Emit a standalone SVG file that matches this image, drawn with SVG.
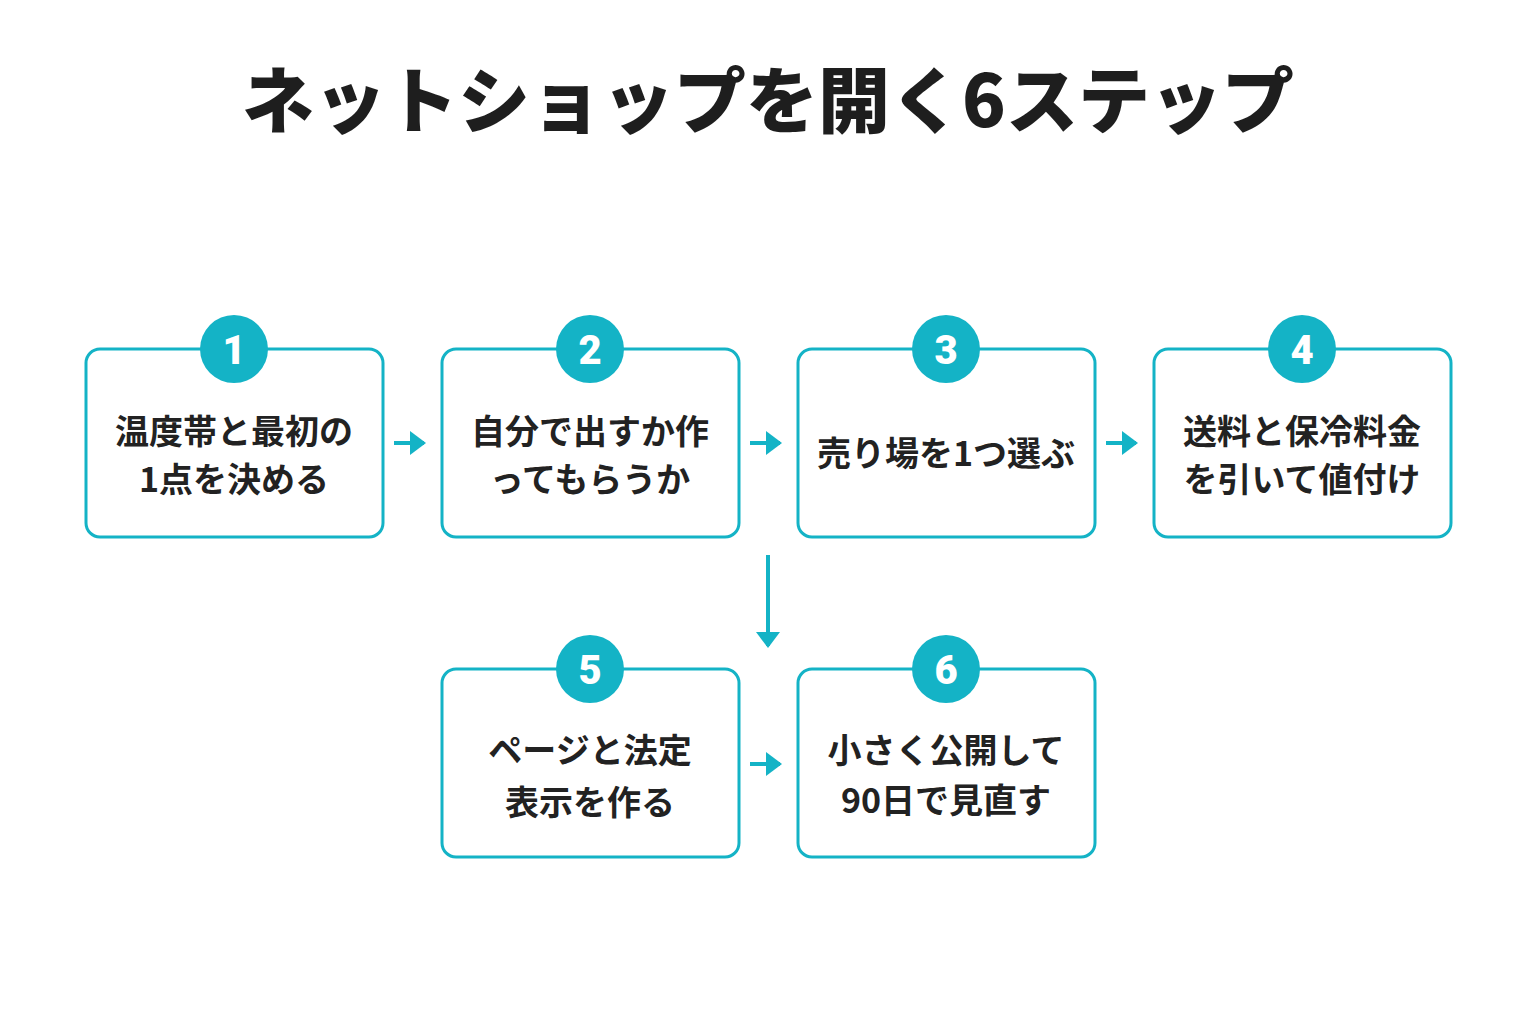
<svg xmlns="http://www.w3.org/2000/svg" width="1536" height="1024" viewBox="0 0 1536 1024">
<style>
.box{fill:#fff;stroke:#14b3c6;stroke-width:3}
.c{fill:#14b3c6}
.n{font-family:Roboto,"Noto Sans",sans-serif;font-weight:900;font-size:40px;fill:#fff;text-anchor:middle}
.t{font-family:"Noto Sans CJK JP",sans-serif;font-weight:700;font-size:34px;fill:#222;text-anchor:middle}
.ln{stroke:#14b3c6;stroke-width:4;fill:none}
</style>
<defs><marker id="ah" markerWidth="4" markerHeight="6" refX="3.5" refY="3" orient="auto" markerUnits="strokeWidth"><path d="M0,0L4,3L0,6z" fill="#14b3c6"/></marker></defs>
<rect width="1536" height="1024" fill="#fff"/>
<text x="768" y="127" font-family="'Noto Sans CJK JP',sans-serif" font-weight="900" font-size="72" fill="#1e1e1e" text-anchor="middle">ネットショップを開く6ステップ</text>
<g id="connectors">
<path class="ln" d="M394 443H424" marker-end="url(#ah)"/>
<path class="ln" d="M750 443H780" marker-end="url(#ah)"/>
<path class="ln" d="M1106 443H1136" marker-end="url(#ah)"/>
<path class="ln" d="M768 555V646" marker-end="url(#ah)"/>
<path class="ln" d="M750 764H780" marker-end="url(#ah)"/>
</g>
<g id="n1"><rect class="box" x="86" y="349" width="297" height="188" rx="14"/><circle class="c" cx="234" cy="349" r="34"/><text class="n" x="234" y="364">1</text><text class="t" x="234" y="444">温度帯と最初の</text><text class="t" x="234" y="492">1点を決める</text></g>
<g id="n2"><rect class="box" x="442" y="349" width="297" height="188" rx="14"/><circle class="c" cx="590" cy="349" r="34"/><text class="n" x="590" y="364">2</text><text class="t" x="590" y="444">自分で出すか作</text><text class="t" x="590" y="492">ってもらうか</text></g>
<g id="n3"><rect class="box" x="798" y="349" width="297" height="188" rx="14"/><circle class="c" cx="946" cy="349" r="34"/><text class="n" x="946" y="364">3</text><text class="t" x="946" y="466" font-size="31">売り場を1つ選ぶ</text></g>
<g id="n4"><rect class="box" x="1154" y="349" width="297" height="188" rx="14"/><circle class="c" cx="1302" cy="349" r="34"/><text class="n" x="1302" y="364">4</text><text class="t" x="1302" y="444">送料と保冷料金</text><text class="t" x="1302" y="492">を引いて値付け</text></g>
<g id="n5"><rect class="box" x="442" y="669" width="297" height="188" rx="14"/><circle class="c" cx="590" cy="669" r="34"/><text class="n" x="590" y="684">5</text><text class="t" x="590" y="763" font-size="37">ページと法定</text><text class="t" x="590" y="815" font-size="37">表示を作る</text></g>
<g id="n6"><rect class="box" x="798" y="669" width="297" height="188" rx="14"/><circle class="c" cx="946" cy="669" r="34"/><text class="n" x="946" y="684">6</text><text class="t" x="946" y="763" font-size="37">小さく公開して</text><text class="t" x="946" y="813" font-size="37">90日で見直す</text></g>
</svg>
